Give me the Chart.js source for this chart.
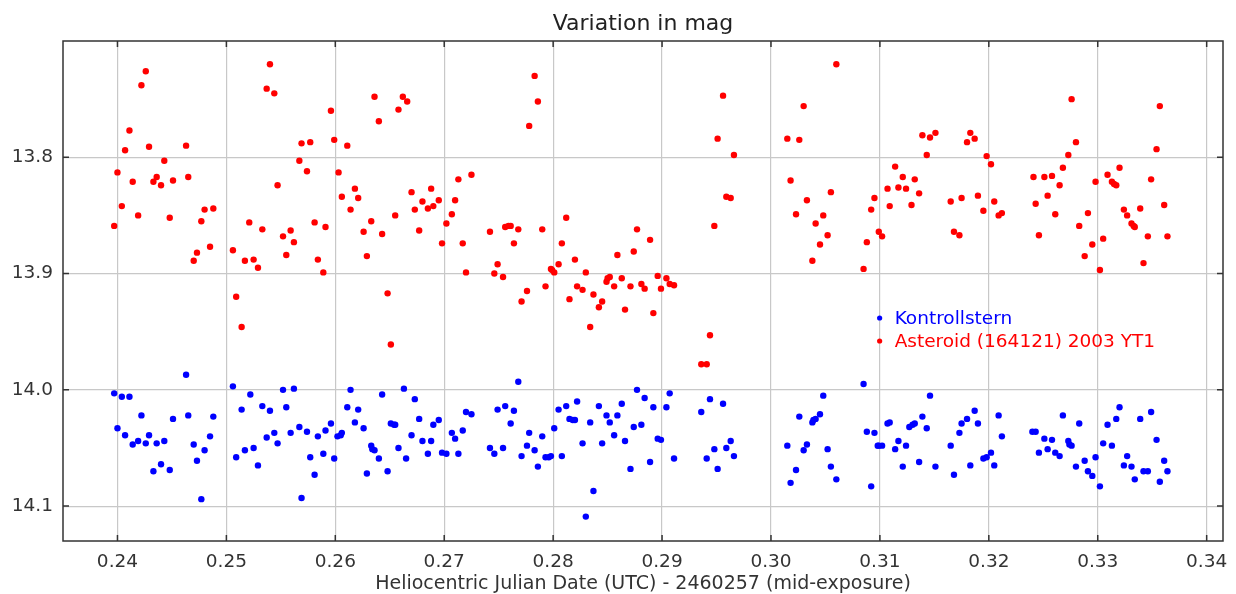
<!DOCTYPE html>
<html>
<head>
<meta charset="utf-8">
<title>Variation in mag</title>
<script src="https://cdn.jsdelivr.net/npm/chart.js@4"></script>
<style>
    body { margin: 0; background: #fff; }
    #wrap { width: 1236px; height: 594px; }
</style>
</head>
<body>
<div id="wrap"><canvas id="mag-chart" width="1236" height="594"></canvas></div>
<script>
// HJD - 2460257 and magnitude
const astX = [
    0.2397, 0.2400, 0.2404, 0.2407, 0.2411, 0.2414, 0.2419, 0.2422, 0.2426, 0.2429, 0.2433, 0.2436, 0.2440, 0.2443,
    0.2448, 0.2451, 0.2463, 0.2465, 0.2470, 0.2473, 0.2477, 0.2480, 0.2485, 0.2488, 0.2506, 0.2509, 0.2514, 0.2517,
    0.2521, 0.2525, 0.2529, 0.2533, 0.2537, 0.2540, 0.2544, 0.2547, 0.2552, 0.2555, 0.2559, 0.2562, 0.2567, 0.2569,
    0.2574, 0.2577, 0.2581, 0.2584, 0.2589, 0.2591, 0.2596, 0.2599, 0.2603, 0.2606, 0.2611, 0.2614, 0.2618, 0.2621,
    0.2626, 0.2629, 0.2633, 0.2636, 0.2640, 0.2643, 0.2648, 0.2651, 0.2655, 0.2658, 0.2662, 0.2666, 0.2670, 0.2673,
    0.2677, 0.2680, 0.2685, 0.2688, 0.2690, 0.2695,
    0.2698, 0.2702, 0.2707, 0.2710, 0.2713, 0.2717, 0.2720, 0.2725, 0.2742, 0.2746, 0.2749, 0.2754, 0.2756, 0.2759,
    0.2761, 0.2764, 0.2768, 0.2771, 0.2776, 0.2778, 0.2783, 0.2786, 0.2790, 0.2793, 0.2798, 0.2799, 0.2801, 0.2805,
    0.2808, 0.2812, 0.2815, 0.2820, 0.2822, 0.2827, 0.2830, 0.2834, 0.2837, 0.2842, 0.2845, 0.2849, 0.2850, 0.2852,
    0.2856, 0.2859, 0.2863, 0.2866,
    0.2871, 0.2874, 0.2877, 0.2881, 0.2884, 0.2889, 0.2892, 0.2896, 0.2899, 0.2904, 0.2907, 0.2911, 0.2936, 0.2941,
    0.2944, 0.2948, 0.2951, 0.2956, 0.2959, 0.2963, 0.2966, 0.3015, 0.3018, 0.3023, 0.3026, 0.3030, 0.3033, 0.3038,
    0.3041, 0.3045,
    0.3048, 0.3052, 0.3055, 0.3060, 0.3085, 0.3088, 0.3092, 0.3095, 0.3099, 0.3102, 0.3107, 0.3109, 0.3114, 0.3117,
    0.3121, 0.3124, 0.3129, 0.3132, 0.3136, 0.3139, 0.3143, 0.3146, 0.3151, 0.3165, 0.3168, 0.3173, 0.3175, 0.3180,
    0.3183, 0.3187, 0.3190, 0.3195, 0.3198, 0.3202, 0.3205, 0.3209, 0.3212,
    0.3241, 0.3243, 0.3246, 0.3251, 0.3254, 0.3258, 0.3261, 0.3265, 0.3268, 0.3273, 0.3276, 0.3280, 0.3283, 0.3288,
    0.3291, 0.3295, 0.3298, 0.3302, 0.3305, 0.3309, 0.3313, 0.3315, 0.3317, 0.3320, 0.3324, 0.3327, 0.3331, 0.3333,
    0.3334, 0.3339, 0.3342, 0.3346, 0.3349, 0.3354, 0.3357, 0.3361, 0.3364
];
const astMag = [
    13.859, 13.813, 13.842, 13.794, 13.777, 13.821, 13.850, 13.738, 13.726, 13.791, 13.821, 13.817, 13.824, 13.803,
    13.852, 13.820, 13.790, 13.817, 13.889, 13.882, 13.855, 13.845, 13.877, 13.844, 13.880, 13.920, 13.946, 13.889,
    13.856, 13.888, 13.895, 13.862, 13.741, 13.720, 13.745, 13.824, 13.868, 13.884, 13.863, 13.873, 13.803, 13.788,
    13.812, 13.787, 13.856, 13.888, 13.899, 13.860, 13.760, 13.785, 13.813, 13.834, 13.790, 13.845, 13.827, 13.835,
    13.864, 13.885, 13.855, 13.748, 13.769, 13.866, 13.917, 13.961, 13.850, 13.759, 13.748, 13.752, 13.830, 13.845,
    13.863, 13.838, 13.844, 13.827, 13.842, 13.837,
    13.874, 13.857, 13.849, 13.837, 13.819, 13.874, 13.899, 13.815, 13.864, 13.900, 13.892, 13.903, 13.860, 13.859,
    13.859, 13.874, 13.862, 13.924, 13.915, 13.773, 13.730, 13.752, 13.862, 13.911, 13.896, 13.897, 13.899, 13.892,
    13.874, 13.852, 13.922, 13.888, 13.911, 13.914, 13.899, 13.946, 13.918, 13.929, 13.924, 13.907, 13.904, 13.903,
    13.911, 13.884, 13.904, 13.931,
    13.911, 13.881, 13.862, 13.909, 13.913, 13.871, 13.934, 13.902, 13.913, 13.904, 13.909, 13.910, 13.978, 13.978,
    13.953, 13.859, 13.784, 13.747, 13.834, 13.835, 13.798, 13.784, 13.820, 13.849, 13.785, 13.756, 13.837, 13.889,
    13.857, 13.875,
    13.850, 13.867, 13.830, 13.720, 13.896, 13.873, 13.845, 13.835, 13.864, 13.868, 13.827, 13.842, 13.808, 13.826,
    13.817, 13.827, 13.841, 13.819, 13.831, 13.781, 13.798, 13.783, 13.779, 13.838, 13.864, 13.867, 13.835, 13.787,
    13.779, 13.784, 13.833, 13.846, 13.799, 13.806, 13.838, 13.850, 13.848,
    13.817, 13.840, 13.867, 13.817, 13.833, 13.816, 13.849, 13.824, 13.809, 13.798, 13.750, 13.787, 13.859, 13.885,
    13.848, 13.875, 13.821, 13.897, 13.870, 13.815, 13.821, 13.823, 13.824, 13.809, 13.845, 13.850, 13.857, 13.859,
    13.860, 13.844, 13.891, 13.868, 13.819, 13.793, 13.756, 13.841, 13.868
];

const kontX = [
    0.2397, 0.2400, 0.2404, 0.2407, 0.2411, 0.2414, 0.2419, 0.2422, 0.2426, 0.2429, 0.2433, 0.2436, 0.2440, 0.2443,
    0.2448, 0.2451, 0.2463, 0.2465, 0.2470, 0.2473, 0.2477, 0.2480, 0.2485, 0.2488, 0.2506, 0.2509, 0.2514, 0.2517,
    0.2522, 0.2525, 0.2529, 0.2533, 0.2537, 0.2540, 0.2544, 0.2547, 0.2552, 0.2555, 0.2559, 0.2562, 0.2567, 0.2569,
    0.2574, 0.2577, 0.2581, 0.2584, 0.2589, 0.2591, 0.2596, 0.2599, 0.2602, 0.2605, 0.2606, 0.2611, 0.2614, 0.2618,
    0.2621, 0.2626, 0.2629, 0.2633, 0.2634, 0.2636, 0.2640, 0.2643, 0.2648, 0.2651, 0.2654, 0.2655, 0.2658, 0.2663,
    0.2665, 0.2670, 0.2673, 0.2677, 0.2680, 0.2685, 0.2688, 0.2690, 0.2695,
    0.2698, 0.2702, 0.2707, 0.2710, 0.2713, 0.2717, 0.2720, 0.2725, 0.2742, 0.2746, 0.2749, 0.2754, 0.2756, 0.2761,
    0.2764, 0.2768, 0.2771, 0.2776, 0.2778, 0.2783, 0.2786, 0.2790, 0.2793, 0.2796, 0.2798, 0.2801, 0.2805, 0.2808,
    0.2812, 0.2815, 0.2818, 0.2820, 0.2822, 0.2827, 0.2830, 0.2834, 0.2837, 0.2842, 0.2845, 0.2849, 0.2852, 0.2856,
    0.2859, 0.2863, 0.2866,
    0.2871, 0.2874, 0.2877, 0.2881, 0.2884, 0.2889, 0.2892, 0.2896, 0.2899, 0.2904, 0.2907, 0.2911, 0.2936, 0.2941,
    0.2944, 0.2948, 0.2951, 0.2956, 0.2959, 0.2963, 0.2966, 0.3015, 0.3018, 0.3023, 0.3026, 0.3030, 0.3033, 0.3038,
    0.3039, 0.3041, 0.3045,
    0.3048, 0.3052, 0.3055, 0.3060, 0.3085, 0.3088, 0.3092, 0.3095, 0.3098, 0.3099, 0.3102, 0.3107, 0.3109, 0.3114,
    0.3117, 0.3121, 0.3124, 0.3127, 0.3130, 0.3132, 0.3136, 0.3139, 0.3143, 0.3146, 0.3151, 0.3165, 0.3168, 0.3173,
    0.3175, 0.3180, 0.3183, 0.3187, 0.3190, 0.3195, 0.3198, 0.3202, 0.3205, 0.3209, 0.3212,
    0.3240, 0.3243, 0.3246, 0.3251, 0.3254, 0.3258, 0.3261, 0.3265, 0.3268, 0.3273, 0.3274, 0.3276, 0.3280, 0.3283,
    0.3288, 0.3291, 0.3295, 0.3298, 0.3302, 0.3305, 0.3309, 0.3313, 0.3317, 0.3320, 0.3324, 0.3327, 0.3331, 0.3334,
    0.3339, 0.3342, 0.3346, 0.3349, 0.3354, 0.3357, 0.3361, 0.3364
];
const kontMag = [
    14.003, 14.033, 14.006, 14.039, 14.006, 14.047, 14.044, 14.022, 14.046, 14.039, 14.070, 14.046, 14.064, 14.044,
    14.069, 14.025, 13.987, 14.022, 14.047, 14.061, 14.094, 14.052, 14.040, 14.023, 13.997, 14.058, 14.017, 14.052,
    14.004, 14.050, 14.065, 14.014, 14.041, 14.018, 14.037, 14.046, 14.000, 14.015, 14.037, 13.999, 14.032, 14.093,
    14.036, 14.058, 14.073, 14.040, 14.055, 14.035, 14.029, 14.059, 14.040, 14.039, 14.037, 14.015, 14.000, 14.028,
    14.017, 14.033, 14.072, 14.048, 14.051, 14.052, 14.059, 14.004, 14.070, 14.029, 14.030, 14.030, 14.050, 13.999,
    14.059, 14.039, 14.008, 14.025, 14.044, 14.055, 14.044, 14.030, 14.026,
    14.054, 14.055, 14.037, 14.042, 14.055, 14.035, 14.019, 14.021, 14.050, 14.055, 14.017, 14.050, 14.014, 14.029,
    14.018, 13.993, 14.057, 14.048, 14.037, 14.052, 14.066, 14.040, 14.058, 14.058, 14.057, 14.033, 14.017, 14.057,
    14.014, 14.025, 14.026, 14.026, 14.010, 14.046, 14.109, 14.028, 14.087, 14.014, 14.046, 14.022, 14.028, 14.039,
    14.022, 14.012, 14.044,
    14.068, 14.032, 14.000, 14.030, 14.007, 14.062, 14.015, 14.042, 14.043, 14.015, 14.003, 14.059, 14.019, 14.059,
    14.008, 14.051, 14.068, 14.012, 14.050, 14.044, 14.057, 14.048, 14.080, 14.069, 14.023, 14.052, 14.047, 14.028,
    14.026, 14.025, 14.021,
    14.005, 14.051, 14.066, 14.077, 13.995, 14.036, 14.083, 14.037, 14.048, 14.048, 14.048, 14.029, 14.028, 14.051,
    14.044, 14.066, 14.048, 14.032, 14.030, 14.029, 14.062, 14.023, 14.033, 14.005, 14.066, 14.048, 14.073, 14.037,
    14.029, 14.025, 14.065, 14.018, 14.029, 14.059, 14.058, 14.054, 14.065, 14.022, 14.040,
    14.036, 14.036, 14.054, 14.042, 14.051, 14.043, 14.054, 14.057, 14.022, 14.044, 14.047, 14.048, 14.066, 14.029,
    14.061, 14.070, 14.074, 14.058, 14.083, 14.046, 14.030, 14.048, 14.025, 14.015, 14.065, 14.057, 14.066, 14.077,
    14.025, 14.070, 14.070, 14.019, 14.043, 14.079, 14.061, 14.070
];

const xTicks = [0.24, 0.25, 0.26, 0.27, 0.28, 0.29, 0.30, 0.31, 0.32, 0.33, 0.34];
const yTicks = [13.8, 13.9, 14.0, 14.1];
const chartTitle = 'Variation in mag';

function toPoints(xs, ys) {
    return xs.map((x, i) => ({ x: x, y: ys[i] }));
}

// dark box round the plot with short inward ticks on every side
const framePlugin = {
    id: 'frame',
    afterDraw(chart) {
        const { ctx, chartArea: a, scales } = chart;
        const len = 6;
        ctx.save();
        ctx.strokeStyle = '#333';
        ctx.lineWidth = 1.5;
        ctx.beginPath();
        scales.x.ticks.forEach(t => {
            const px = scales.x.getPixelForValue(t.value);
            ctx.moveTo(px, a.top); ctx.lineTo(px, a.top + len);
            ctx.moveTo(px, a.bottom); ctx.lineTo(px, a.bottom - len);
        });
        scales.y.ticks.forEach(t => {
            const py = scales.y.getPixelForValue(t.value);
            ctx.moveTo(a.left, py); ctx.lineTo(a.left + len, py);
            ctx.moveTo(a.right, py); ctx.lineTo(a.right - len, py);
        });
        ctx.stroke();
        ctx.strokeRect(a.left, a.top, a.right - a.left, a.bottom - a.top);

        // title centred over the plot box, not the canvas
        ctx.fillStyle = '#222';
        ctx.font = '22px "DejaVu Sans"';
        ctx.textAlign = 'center';
        ctx.textBaseline = 'alphabetic';
        ctx.fillText(chartTitle, (a.left + a.right) / 2, 30);
        ctx.restore();
    }
};

// legend sits inside the plot, text in the series colour
const insideLegend = {
    id: 'insideLegend',
    afterDatasetsDraw(chart) {
        const { ctx, chartArea: a } = chart;
        const x = a.left + 0.704 * (a.right - a.left);
        let y = a.top + 0.554 * (a.bottom - a.top);
        ctx.save();
        ctx.font = '18.5px "DejaVu Sans"';
        ctx.textBaseline = 'middle';
        ctx.textAlign = 'left';
        chart.data.datasets.forEach(ds => {
            ctx.fillStyle = ds.backgroundColor;
            ctx.beginPath();
            ctx.arc(x, y, 2.6, 0, Math.PI * 2);
            ctx.fill();
            ctx.fillText(ds.label, x + 15, y + 1);
            y += 23;
        });
        ctx.restore();
    }
};

function initChart() {
    Chart.defaults.font.family = '"DejaVu Sans", sans-serif';
    Chart.defaults.color = '#333';

    const ctx = document.getElementById('mag-chart').getContext('2d');
    new Chart(ctx, {
        type: 'scatter',
        data: {
            datasets: [{
                label: 'Kontrollstern',
                data: toPoints(kontX, kontMag),
                backgroundColor: '#0000ff',
                borderWidth: 0,
                pointRadius: 3.2,
            }, {
                label: 'Asteroid (164121) 2003 YT1',
                data: toPoints(astX, astMag),
                backgroundColor: '#ff0000',
                borderWidth: 0,
                pointRadius: 3.2,
            }],
        },
        options: {
            responsive: false,
            animation: false,
            layout: { padding: { left: 0, right: 13, top: 41, bottom: 0 } },
            plugins: {
                legend: { display: false },
                tooltip: { enabled: false },
                title: { display: false },
            },
            scales: {
                x: {
                    type: 'linear',
                    min: 0.235,
                    max: 0.3415,
                    afterBuildTicks: scale => { scale.ticks = xTicks.map(v => ({ value: v })); },
                    afterFit: scale => {
                        scale.height = 53;
                        scale.paddingLeft = 0;
                        scale.paddingRight = 0;
                    },
                    grid: { color: '#c8c8c8', lineWidth: 1.2, drawTicks: false },
                    border: { display: false },
                    ticks: {
                        padding: 10,
                        font: { size: 18.5 },
                        callback: v => v.toFixed(2),
                    },
                    title: {
                        display: true,
                        text: 'Heliocentric Julian Date (UTC) - 2460257 (mid-exposure)',
                        font: { size: 19 },
                        padding: { top: 0, bottom: -1 },
                    },
                },
                y: {
                    type: 'linear',
                    reverse: true,
                    min: 13.7,
                    max: 14.13,
                    afterBuildTicks: scale => { scale.ticks = yTicks.map(v => ({ value: v })); },
                    afterFit: scale => {
                        scale.width = 63;
                        scale.paddingTop = 0;
                        scale.paddingBottom = 0;
                    },
                    grid: { color: '#c8c8c8', lineWidth: 1.2, drawTicks: false },
                    border: { display: false },
                    ticks: {
                        padding: 10,
                        font: { size: 18.5 },
                        callback: v => v.toFixed(1),
                    },
                },
            },
        },
        plugins: [framePlugin, insideLegend],
    });
}

window.onload = initChart;
</script>
</body>
</html>
